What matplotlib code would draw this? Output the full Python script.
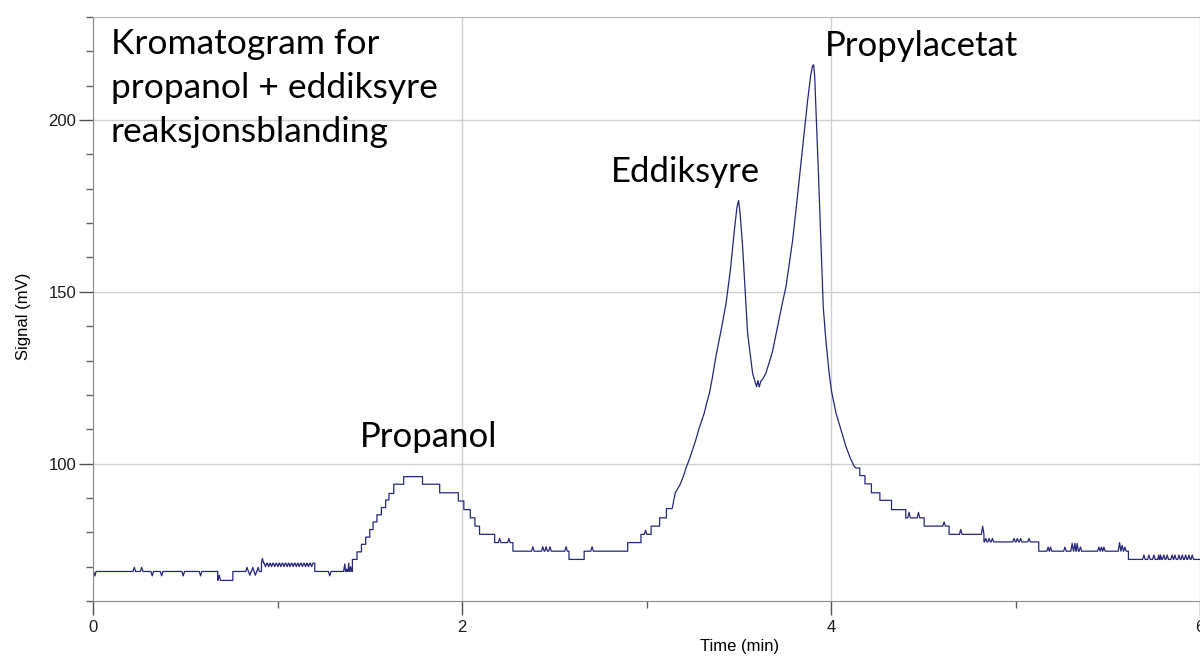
import numpy as np
import matplotlib
matplotlib.use("Agg")
import matplotlib.pyplot as plt
from matplotlib.ticker import MultipleLocator

# chromatogram: baseline plateaus before the big peaks (start time in min, level in mV)
step_t = [0.000, 0.676, 0.758, 0.913, 1.202, 1.406, 1.431, 1.455, 1.478, 1.500, 1.518,
          1.539, 1.563, 1.586, 1.604, 1.630, 1.684, 1.786, 1.879, 1.980, 2.010, 2.045,
          2.070, 2.095, 2.177, 2.276, 2.580, 2.662, 2.898, 2.970, 3.025, 3.071, 3.108]
step_v = [68.6, 66.0, 68.6, 71.0, 68.6, 72.1, 74.3, 76.5, 78.6, 80.8, 83.0,
          85.1, 87.2, 89.4, 91.3, 94.0, 96.2, 94.0, 91.5, 89.1, 86.6, 84.2,
          81.8, 79.4, 77.0, 74.5, 72.1, 74.5, 77.0, 79.4, 81.8, 84.2, 86.9]

# eddiksyre + propylacetat peaks
peak_t = [3.139, 3.156, 3.182, 3.200, 3.214, 3.232, 3.250, 3.265, 3.283, 3.301, 3.313,
          3.326, 3.341, 3.355, 3.376, 3.405, 3.431, 3.455, 3.476, 3.490, 3.499, 3.507,
          3.521, 3.548, 3.575, 3.590, 3.597, 3.604, 3.611, 3.620, 3.632, 3.647, 3.683,
          3.710, 3.737, 3.756, 3.792, 3.815, 3.837, 3.873, 3.890, 3.900, 3.906, 3.912,
          3.918, 3.932, 3.945, 3.958, 3.972, 3.990, 4.003, 4.027, 4.054, 4.081, 4.105,
          4.126]
peak_v = [86.9, 91.5, 93.9, 96.3, 98.7, 101.2, 104.1, 106.5, 109.9, 112.8, 114.7,
          117.6, 120.5, 124.4, 131.1, 139.0, 146.6, 156.5, 167.8, 174.5, 176.6, 173.0,
          163.1, 137.9, 126.3, 123.5, 122.4, 124.2, 122.3, 124.0, 124.8, 126.3, 132.6,
          139.8, 146.9, 151.5, 165.0, 176.2, 187.3, 205.6, 213.0, 215.8, 216.1, 212.5,
          203.6, 184.4, 165.0, 145.6, 136.0, 126.3, 121.0, 114.7, 109.9, 105.0, 101.5,
          99.2]

# tail plateaus after the peaks
tail_t = [4.135, 4.156, 4.184, 4.219, 4.265, 4.328, 4.405, 4.505, 4.640, 4.829, 5.126, 5.612]
tail_v = [98.7, 96.5, 94.1, 91.5, 89.3, 86.6, 84.2, 81.8, 79.4, 77.2, 74.5, 72.1]
t_end = 6.0

# single-sample noise spikes (time, tip value)
spike_t = [0.010, 0.224, 0.264, 0.321, 0.372, 0.489, 0.583, 0.684,
           0.835, 0.850, 0.866, 0.880, 0.895, 0.918,
           0.935, 0.952, 0.968, 0.985, 1.002, 1.018, 1.035, 1.052, 1.068, 1.085,
           1.102, 1.118, 1.135, 1.152, 1.168, 1.185,
           1.283, 1.365, 1.375, 1.386, 1.396,
           2.204, 2.254, 2.384, 2.438, 2.456, 2.477, 2.564, 2.705, 2.995,
           4.423, 4.474, 4.613, 4.703, 4.822, 4.839, 4.857, 4.875, 4.992, 5.010,
           5.028, 5.073, 5.177, 5.190, 5.268, 5.307, 5.322, 5.334, 5.352, 5.452,
           5.466, 5.479, 5.564, 5.578, 5.593,
           5.696, 5.723, 5.750, 5.777, 5.786, 5.804, 5.822, 5.849, 5.864, 5.886,
           5.904, 5.922, 5.940, 5.958, 5.976]
spike_v = [67.3, 69.8, 69.8, 67.3, 67.3, 67.3, 67.3, 67.5,
           69.8, 67.5, 69.8, 67.5, 69.8, 72.4,
           70.0, 70.0, 70.0, 70.0, 70.0, 70.0, 70.0, 70.0, 70.0, 70.0,
           70.0, 70.0, 70.0, 70.0, 70.0, 70.0,
           67.3, 70.8, 69.3, 71.0, 70.0,
           78.2, 78.2, 75.8, 75.8, 75.8, 75.8, 75.8, 75.8, 80.6,
           85.8, 85.8, 83.0, 80.8, 81.8, 78.2, 78.2, 78.2, 78.2, 78.2,
           78.2, 78.2, 75.7, 75.7, 75.7, 76.8, 76.8, 76.8, 75.7, 75.7,
           75.7, 75.7, 77.0, 76.2, 75.7,
           73.4, 73.4, 73.4, 73.4, 73.4, 73.4, 73.4, 73.4, 73.4, 73.4,
           73.4, 73.4, 73.4, 73.4]

peak_labels = ["Propanol", "Eddiksyre", "Propylacetat"]
peak_label_t = [1.817, 3.213, 4.488]
peak_label_v = [104.9, 181.9, 218.7]


def plateaus_to_xy(ts, vs, t_stop):
    xs, ys = [], []
    for i, v in enumerate(vs):
        t_next = ts[i + 1] if i + 1 < len(ts) else t_stop
        xs += [ts[i], t_next]
        ys += [v, v]
    return xs, ys


x1, y1 = plateaus_to_xy(step_t, step_v, peak_t[0])
x3, y3 = plateaus_to_xy(tail_t, tail_v, t_end)
xs = np.array(x1 + peak_t + x3)
ys = np.array(y1 + peak_v + y3)

# spikes are little triangles on top of the trace
w = 0.007
sx, sy = [], []
for t, tip in zip(spike_t, spike_v):
    sx += [t - w, t, t + w]
    sy += [np.interp(t - w, xs, ys), tip, np.interp(t + w, xs, ys)]
all_x = np.concatenate([xs, sx])
all_y = np.concatenate([ys, sy])
order = np.argsort(all_x, kind="stable")
all_x, all_y = all_x[order], all_y[order]

fig = plt.figure(figsize=(12, 6.57), dpi=100)
ax = fig.add_axes([93 / 1200, 1 - 601 / 657, 1107 / 1200, 584 / 657])

ax.plot(all_x, all_y, color="#26267a", lw=0.9)

ax.set_xlim(0, 6)
ax.set_ylim(60, 230)
ax.set_xticks([0, 2, 4, 6])
ax.xaxis.set_minor_locator(MultipleLocator(1))
ax.set_yticks([100, 150, 200])
ax.yaxis.set_minor_locator(MultipleLocator(10))
ax.grid(True, which="major", color="#cfcfcf", lw=1.0)

ax.tick_params(which="major", direction="out", length=10, width=1.0, color="#505050",
               labelsize=12, labelcolor="#1a1a1a", pad=2)
ax.tick_params(axis="x", which="major", pad=4)
ax.tick_params(which="minor", direction="out", length=5, width=1.0, color="#606060")
for side in ["left", "bottom"]:
    ax.spines[side].set_color("#8c8c8c")
ax.spines["top"].set_color("#b5b5b5")
ax.spines["right"].set_visible(False)

for lab in ax.get_xticklabels() + ax.get_yticklabels():
    lab.set_fontfamily("Liberation Sans")

ax.set_xlabel("Time (min)", fontsize=12, family="Liberation Sans")
ax.set_ylabel("Signal (mV)", fontsize=12, family="Liberation Sans")
ax.xaxis.set_label_coords(0.5845, -0.065)
ax.yaxis.set_label_coords(-0.056, 0.488)

ax.text(0.016, 0.981, "Kromatogram for\npropanol + eddiksyre\nreaksjonsblanding",
        transform=ax.transAxes, ha="left", va="top", fontsize=25.5,
        family="Lato", linespacing=1.46, color="black")

for name, t, v in zip(peak_labels, peak_label_t, peak_label_v):
    ax.text(t, v, name, ha="center", va="baseline", fontsize=25, family="Lato",
            color="black")

fig.savefig("out.png", dpi=100)
